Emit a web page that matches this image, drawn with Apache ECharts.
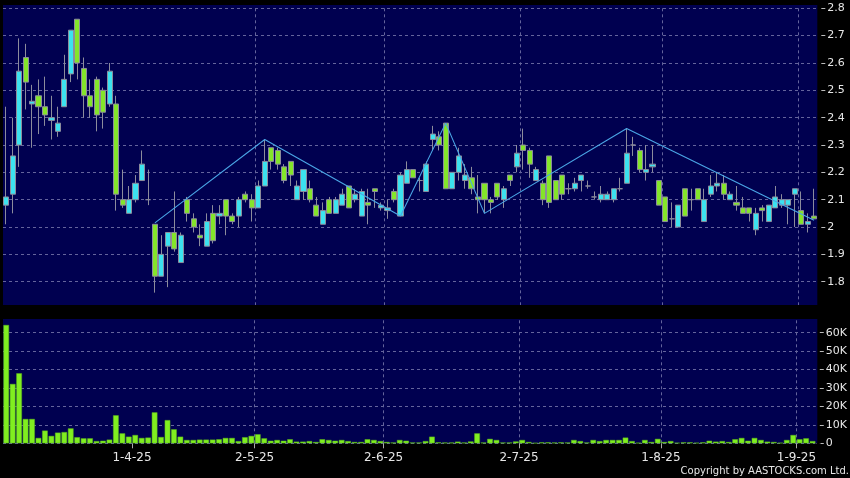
<!DOCTYPE html>
<html>
<head>
<meta charset="utf-8">
<script src="https://cdn.jsdelivr.net/npm/echarts@6/dist/echarts.min.js"></script>
<style>html,body{margin:0;padding:0;background:#000;}#c{width:850px;height:478px;}</style>
</head>
<body>
<div id="c"></div>
<script>
const categories = [
'4-3-25','5-3-25','6-3-25','7-3-25','10-3-25','11-3-25','12-3-25','13-3-25','14-3-25','17-3-25','18-3-25','19-3-25','20-3-25','21-3-25','24-3-25','25-3-25','26-3-25','27-3-25','28-3-25','31-3-25',
'1-4-25','2-4-25','3-4-25','7-4-25','8-4-25','9-4-25','10-4-25','11-4-25','14-4-25','15-4-25','16-4-25','17-4-25','22-4-25','23-4-25','24-4-25','25-4-25','28-4-25','29-4-25','30-4-25',
'2-5-25','6-5-25','7-5-25','8-5-25','9-5-25','12-5-25','13-5-25','14-5-25','15-5-25','16-5-25','19-5-25','20-5-25','21-5-25','22-5-25','23-5-25','26-5-25','27-5-25','28-5-25','29-5-25','30-5-25',
'2-6-25','3-6-25','4-6-25','5-6-25','6-6-25','9-6-25','10-6-25','11-6-25','12-6-25','13-6-25','16-6-25','17-6-25','18-6-25','19-6-25','20-6-25','23-6-25','24-6-25','25-6-25','26-6-25','27-6-25','30-6-25',
'2-7-25','3-7-25','4-7-25','7-7-25','8-7-25','9-7-25','10-7-25','11-7-25','14-7-25','15-7-25','16-7-25','17-7-25','18-7-25','21-7-25','22-7-25','23-7-25','24-7-25','25-7-25','28-7-25','29-7-25','30-7-25','31-7-25',
'1-8-25','4-8-25','5-8-25','6-8-25','7-8-25','8-8-25','11-8-25','12-8-25','13-8-25','14-8-25','15-8-25','18-8-25','19-8-25','20-8-25','21-8-25','22-8-25','25-8-25','26-8-25','27-8-25','28-8-25','29-8-25',
'1-9-25','2-9-25','3-9-25'
];
const tickLabels = ['1-4-25','2-5-25','2-6-25','2-7-25','1-8-25','1-9-25'];

const openP = [
2.08,2.12,2.30,2.62,2.45,2.48,2.44,2.39,2.35,2.44,
2.56,2.76,2.58,2.48,2.54,2.50,2.45,2.45,2.10,2.05,
2.10,2.17,2.10,2.01,1.82,1.93,1.98,1.87,2.10,2.03,
1.97,1.93,2.05,2.04,2.10,2.04,2.04,2.12,2.10,2.07,
2.15,2.29,2.28,2.22,2.24,2.10,2.13,2.14,2.08,2.01,
2.10,2.05,2.08,2.15,2.10,2.04,2.09,2.14,2.07,2.06,
2.13,2.04,2.16,2.21,2.17,2.13,2.32,2.33,2.38,2.14,
2.20,2.17,2.18,2.11,2.16,2.10,2.16,2.10,2.19,2.22,
2.30,2.28,2.17,2.16,2.26,2.17,2.19,2.14,2.14,2.17,
2.15,2.11,2.10,2.10,2.10,2.14,2.16,2.30,2.28,2.20,
2.22,2.17,2.11,2.03,2.00,2.14,2.10,2.14,2.02,2.12,
2.15,2.16,2.10,2.09,2.07,2.07,1.99,2.07,2.02,2.07,
2.08,2.08,2.12,2.06,2.01,2.04
];
const closeP = [
2.11,2.26,2.57,2.53,2.46,2.44,2.41,2.40,2.38,2.54,
2.72,2.60,2.48,2.44,2.41,2.42,2.57,2.12,2.08,2.10,
2.16,2.23,2.10,1.82,1.90,1.98,1.92,1.97,2.05,2.00,
1.96,2.02,1.95,2.05,2.04,2.02,2.10,2.10,2.07,2.15,
2.24,2.24,2.23,2.17,2.19,2.15,2.21,2.10,2.04,2.06,
2.05,2.10,2.12,2.07,2.12,2.13,2.08,2.13,2.08,2.07,
2.10,2.19,2.21,2.18,2.17,2.23,2.34,2.30,2.14,2.20,
2.26,2.19,2.14,2.10,2.10,2.09,2.11,2.14,2.17,2.27,
2.28,2.23,2.21,2.10,2.09,2.10,2.12,2.14,2.16,2.19,
2.15,2.11,2.12,2.12,2.14,2.14,2.27,2.30,2.21,2.21,
2.23,2.08,2.02,2.03,2.08,2.04,2.10,2.10,2.10,2.15,
2.16,2.12,2.12,2.08,2.05,2.05,2.05,2.06,2.08,2.11,
2.10,2.10,2.14,2.01,2.02,2.03
];
const lowP = [
2.01,2.05,2.22,2.43,2.29,2.34,2.37,2.32,2.33,2.44,
2.53,2.54,2.40,2.40,2.35,2.36,2.44,2.06,2.07,2.05,
2.09,2.17,2.08,1.76,1.82,1.78,1.91,1.87,2.02,1.98,
1.93,1.93,1.94,2.01,1.97,2.01,2.00,2.09,2.02,2.07,
2.15,2.21,2.21,2.16,2.15,2.10,2.10,2.09,2.04,2.01,
2.05,2.05,2.08,2.07,2.09,2.04,2.01,2.07,2.06,2.03,
2.09,2.04,2.16,2.18,2.13,2.13,2.28,2.28,2.14,2.14,
2.17,2.14,2.12,2.05,2.05,2.05,2.10,2.07,2.15,2.20,
2.21,2.18,2.17,2.08,2.07,2.10,2.10,2.12,2.13,2.13,
2.14,2.10,2.09,2.10,2.09,2.13,2.16,2.26,2.20,2.17,
2.20,2.08,2.02,2.00,2.00,2.04,2.06,2.10,2.02,2.11,
2.13,2.10,2.10,2.06,2.05,2.02,1.97,2.02,2.02,2.07,
2.07,2.01,2.00,2.01,1.98,2.03
];
const highP = [
2.44,2.40,2.69,2.67,2.52,2.54,2.55,2.48,2.44,2.63,
2.72,2.76,2.62,2.54,2.55,2.51,2.60,2.48,2.21,2.15,
2.19,2.28,2.21,2.01,1.97,1.98,2.13,1.98,2.11,2.05,
2.01,2.05,2.08,2.08,2.10,2.05,2.11,2.13,2.12,2.17,
2.32,2.29,2.29,2.23,2.24,2.17,2.21,2.17,2.11,2.09,
2.11,2.11,2.14,2.15,2.14,2.14,2.14,2.14,2.09,2.10,
2.14,2.20,2.24,2.21,2.18,2.24,2.37,2.35,2.38,2.20,
2.29,2.23,2.22,2.19,2.16,2.11,2.16,2.15,2.19,2.30,
2.36,2.29,2.22,2.17,2.26,2.17,2.19,2.16,2.18,2.19,
2.17,2.13,2.15,2.13,2.14,2.18,2.36,2.33,2.29,2.30,
2.30,2.17,2.11,2.09,2.08,2.14,2.14,2.14,2.14,2.19,
2.20,2.19,2.13,2.15,2.11,2.07,2.07,2.08,2.08,2.15,
2.12,2.10,2.14,2.13,2.05,2.14
];
const volumes = [
64200,32200,38000,13200,13200,2900,6900,4000,5800,6100,
8100,3300,2700,2700,1200,1400,2000,15200,5400,3600,
4500,2900,3100,16800,3400,12600,7600,3600,1800,1800,
2000,2000,2000,2200,2900,2900,1200,3300,4000,4900,
2700,1400,1800,1400,2200,900,900,1200,700,2200,
1800,1400,1800,1200,700,700,2200,1800,1200,700,
400,1800,1400,400,400,1200,3600,500,400,400,
900,400,1000,5400,400,2400,1800,400,400,1000,
1800,700,200,500,500,400,500,400,1800,1200,
400,1800,1200,1800,1800,1800,3100,1200,300,1800,
700,2400,700,1200,300,500,500,300,500,1400,
900,1200,700,2200,2900,1400,2900,1800,900,700,
300,1800,4500,2200,2700,1200
];
const trendIdx = [23, 40, 61, 68, 74, 96, 125];
const trendVal = [2.015, 2.32, 2.04, 2.38, 2.05, 2.36, 2.025];

const NAVY = '#000050';
const GRID = '#64649c';
const TXT = '#e6e6e6';
const UP = '#3ce2ef';
const DOWN = '#84e52a';
const EDGE = '#8c8c9c';

const candleData = categories.map((_, i) => [openP[i], closeP[i], lowP[i], highP[i]]);
const trendData = trendIdx.map((k, j) => [k, trendVal[j]]);
const isMonthTick = (idx, val) => tickLabels.indexOf(categories[idx]) >= 0;

const chart = echarts.init(document.getElementById('c'), null, {renderer: 'canvas'});
chart.setOption({
  animation: false,
  backgroundColor: '#000',
  graphic: [
    {type: 'rect', z: -20, shape: {x: 3, y: 5, width: 814.3, height: 300}, style: {fill: NAVY}},
    {type: 'rect', z: -20, shape: {x: 3, y: 319, width: 814.3, height: 124.3}, style: {fill: NAVY}},
    {type: 'rect', z: 60, shape: {x: 0, y: 305, width: 850, height: 14}, style: {fill: '#000'}},
    {type: 'rect', z: 60, shape: {x: 815, y: 443.5, width: 6, height: 7}, style: {fill: '#000'}},
    {type: 'text', z: 60, x: 849, y: 471.5, style: {text: 'Copyright by AASTOCKS.com Ltd.', fill: TXT, font: '10px "DejaVu Sans"', textAlign: 'right', textVerticalAlign: 'middle'}}
  ],
  grid: [
    {left: 3, right: 32.7, top: 8.3, height: 300.74},
    {left: 3, right: 32.7, top: 314.3, height: 129}
  ],
  xAxis: [
    {type: 'category', gridIndex: 0, data: categories, boundaryGap: true,
     axisLine: {show: false}, axisTick: {show: false}, axisLabel: {show: false},
     splitLine: {show: true, interval: isMonthTick, showMinLine: false, showMaxLine: false,
                 lineStyle: {color: GRID, type: [3, 3], width: 1}}},
    {type: 'category', gridIndex: 1, data: categories, boundaryGap: true,
     axisLine: {show: false},
     axisTick: {show: true, interval: isMonthTick, length: 5, lineStyle: {color: '#aaaaaa'}},
     axisLabel: {show: true, interval: isMonthTick, color: TXT, fontSize: 12, fontFamily: 'DejaVu Sans', margin: 9, padding: [0, 6.5, 0, 0]},
     splitLine: {show: true, interval: isMonthTick, showMinLine: false, showMaxLine: false,
                 lineStyle: {color: GRID, type: [3, 3], width: 1}}}
  ],
  yAxis: [
    {type: 'value', gridIndex: 0, position: 'right', offset: 4, min: 1.7, max: 2.8, interval: 0.1,
     axisLine: {show: false},
     axisTick: {show: true, length: 4, lineStyle: {color: '#bbbbbb'}},
     axisLabel: {color: TXT, fontSize: 11, fontFamily: 'DejaVu Sans', margin: 6,
       formatter: v => Math.abs(v - 1.7) < 1e-6 ? '' : String(parseFloat(v.toFixed(1)))},
     splitLine: {show: true, lineStyle: {color: GRID, type: [3, 3], width: 1}}},
    {type: 'value', gridIndex: 1, position: 'right', offset: 4, min: 0, max: 70000, interval: 10000,
     axisLine: {show: false},
     axisTick: {show: true, length: 4, lineStyle: {color: '#bbbbbb'}},
     axisLabel: {color: TXT, fontSize: 11, fontFamily: 'DejaVu Sans', margin: 6,
       formatter: v => v >= 70000 ? '' : (v === 0 ? '0' : (v / 1000) + 'K')},
     splitLine: {show: true, lineStyle: {color: GRID, type: [3, 3], width: 1}}}
  ],
  series: [
    {type: 'candlestick', xAxisIndex: 0, yAxisIndex: 0, data: candleData, barWidth: 5.6,
     itemStyle: {color: UP, color0: DOWN, borderColor: EDGE, borderColor0: EDGE, borderColorDoji: EDGE, borderWidth: 1}},
    {type: 'line', xAxisIndex: 0, yAxisIndex: 0, data: trendData, symbol: 'none', z: 5,
     lineStyle: {color: '#4aa6e6', width: 1.1}},
    {type: 'bar', xAxisIndex: 1, yAxisIndex: 1, data: volumes, barWidth: 5.6,
     itemStyle: {color: '#80ee20', borderColor: '#5cb81a', borderWidth: 0.5}}
  ]
});
</script>
</body>
</html>
